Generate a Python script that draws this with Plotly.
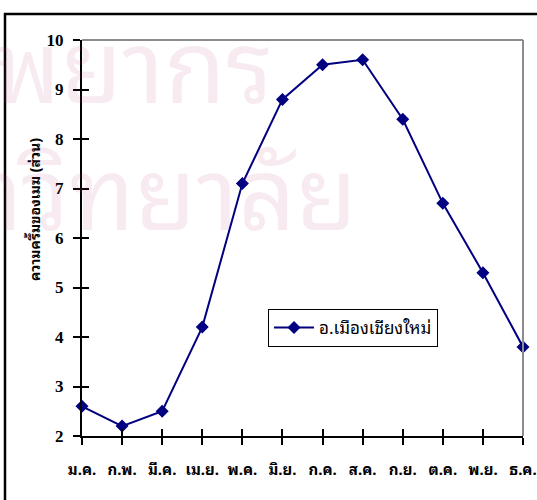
import plotly.graph_objects as go

# Monthly values, Amphoe Mueang Chiang Mai
months = ["ม.ค.", "ก.พ.", "มี.ค.", "เม.ย.", "พ.ค.", "มิ.ย.",
          "ก.ค.", "ส.ค.", "ก.ย.", "ต.ค.", "พ.ย.", "ธ.ค."]
values = [2.6, 2.2, 2.5, 4.2, 7.1, 8.8, 9.5, 9.6, 8.4, 6.7, 5.3, 3.8]
series_name = "อ.เมืองเชียงใหม่"
y_title = "ความครึ้มของเมฆ (ส่วน)"
y_ticks = [2, 3, 4, 5, 6, 7, 8, 9, 10]

W, H = 537, 500
L, R, T, B = 82, 14, 40, 64
pw, ph = W - L - R, H - T - B


def px(x):
    return (x - L) / pw


def py(y):
    return (H - B - y) / ph


navy = "#000080"
thai_font = "Noto Sans Thai Looped, Loma, Garuda, Tahoma, Noto Sans Thai, sans-serif"
idx = list(range(len(months)))

fig = go.Figure()
fig.add_trace(go.Scatter(
    x=idx, y=values, name=series_name, mode="lines+markers",
    line=dict(color=navy, width=2),
    marker=dict(symbol="diamond", size=10, color=navy),
    cliponaxis=False,
))

fig.update_layout(
    width=W, height=H,
    margin=dict(l=L, r=R, t=T, b=B, autoexpand=False),
    paper_bgcolor="white", plot_bgcolor="white",
    showlegend=True,
    legend=dict(
        x=px(268), y=py(309), xanchor="left", yanchor="top",
        bgcolor="white", bordercolor="black", borderwidth=1,
        font=dict(family=thai_font, size=17, color="black"),
        itemwidth=40,
    ),
    xaxis=dict(
        range=[0, 11], tickmode="array", tickvals=idx, ticktext=months,
        showgrid=False, zeroline=False, automargin=False,
        showline=True, linecolor="black", linewidth=2,
        ticks="outside", ticklen=7, tickwidth=1.5, tickcolor="black",
        ticklabelstandoff=12, ticklabeloverflow="allow",
        tickfont=dict(family=thai_font, size=15, color="black", weight="bold"),
    ),
    yaxis=dict(
        range=[2, 10], tickmode="array", tickvals=y_ticks,
        showgrid=False, zeroline=False, automargin=False,
        showline=True, linecolor="black", linewidth=2,
        ticks="outside", ticklen=7, tickwidth=1.5, tickcolor="black",
        ticklabelstandoff=6,
        tickfont=dict(family="Liberation Serif, Times New Roman, serif", size=17,
                      color="black", weight="bold"),
    ),
    # inner halves of the crossing tick marks
    xaxis2=dict(range=[0, 11], overlaying="x", tickmode="array", tickvals=idx,
                showticklabels=False, ticks="inside", ticklen=7, tickwidth=1.5,
                tickcolor="black", showgrid=False, zeroline=False, showline=False,
                automargin=False),
    yaxis2=dict(range=[2, 10], overlaying="y", tickmode="array", tickvals=y_ticks,
                showticklabels=False, ticks="inside", ticklen=7, tickwidth=1.5,
                tickcolor="black", showgrid=False, zeroline=False, showline=False,
                automargin=False),
)

# invisible trace to activate the secondary tick axes
fig.add_trace(go.Scatter(x=[0], y=[2], xaxis="x2", yaxis="y2", mode="markers",
                         marker=dict(opacity=0), showlegend=False, hoverinfo="skip"))

# vertical axis title
fig.add_annotation(text=y_title, xref="paper", yref="paper", x=px(33), y=py(210),
                   xanchor="center", yanchor="middle",
                   textangle=-90, showarrow=False,
                   font=dict(family=thai_font, size=14, color="black", weight="bold"))

# grey top and right edges of the plot area
fig.add_shape(type="line", xref="paper", yref="paper", x0=0, x1=1, y0=1, y1=1,
              line=dict(color="#8c8c8c", width=2))
fig.add_shape(type="line", xref="paper", yref="paper", x0=1, x1=1, y0=0, y1=1,
              line=dict(color="#8c8c8c", width=2))

# outer chart frame
fig.add_shape(type="rect", xref="paper", yref="paper",
              x0=px(5), x1=px(545), y0=py(508), y1=py(14),
              line=dict(color="black", width=2.5), fillcolor="rgba(0,0,0,0)", layer="below")

# faint background watermark
wm_font = dict(family=thai_font, size=100, color="rgba(180,60,130,0.11)")
fig.add_annotation(text="ทรัพยากร", xref="paper", yref="paper", x=px(275), y=py(140),
                   xanchor="right", yanchor="bottom", showarrow=False, font=wm_font)
fig.add_annotation(text="มหาวิทยาลัย", xref="paper", yref="paper", x=px(359), y=py(267),
                   xanchor="right", yanchor="bottom", showarrow=False, font=wm_font)

fig.write_html("out.html")
